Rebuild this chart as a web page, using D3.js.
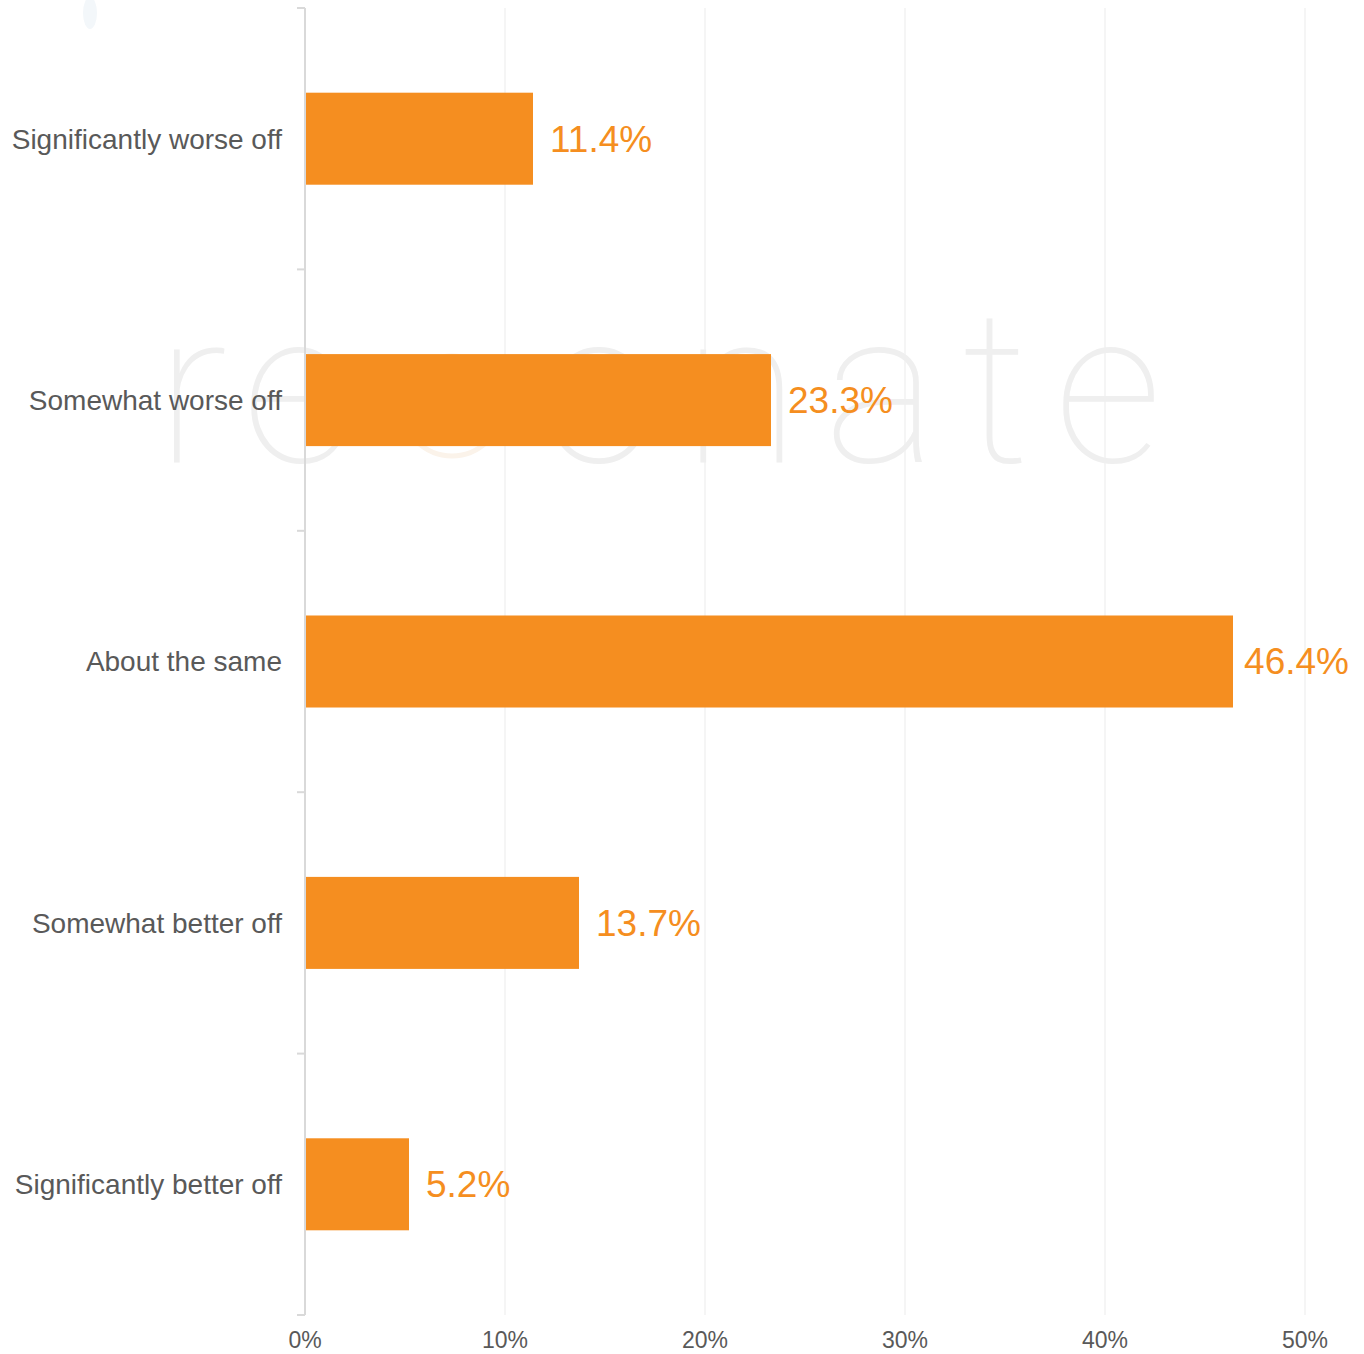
<!DOCTYPE html>
<html>
<head>
<meta charset="utf-8">
<script src="https://cdn.jsdelivr.net/npm/d3@7"></script>
<style>
  html, body { margin: 0; padding: 0; background: #ffffff; }
  svg { display: block; }
</style>
</head>
<body>
<svg id="chart" width="1364" height="1354"></svg>
<script>
const categories = ["Significantly worse off", "Somewhat worse off", "About the same", "Somewhat better off", "Significantly better off"];
const values = [11.4, 23.3, 46.4, 13.7, 5.2];
const valueLabels = ["11.4%", "23.3%", "46.4%", "13.7%", "5.2%"];
const xTicks = [0, 10, 20, 30, 40, 50];
const xTickLabels = ["0%", "10%", "20%", "30%", "40%", "50%"];

const svg = d3.select("#chart");
const margin = { left: 305, right: 59, top: 8, bottom: 39 };
const W = 1364, H = 1354;
const x = d3.scaleLinear().domain([0, 50]).range([margin.left, W - margin.right]);
const y = d3.scaleBand().domain(categories).range([margin.top, H - margin.bottom])
  .paddingInner(0.648).paddingOuter(0.324);

// faint decorations
svg.append("ellipse").attr("cx", 90).attr("cy", 13).attr("rx", 7).attr("ry", 16).attr("fill", "#f3f7fa");

// gridlines
svg.append("g").selectAll("line").data(xTicks.filter(d => d > 0)).join("line")
  .attr("x1", d => x(d)).attr("x2", d => x(d))
  .attr("y1", margin.top).attr("y2", H - margin.bottom)
  .attr("stroke", "#f0f0f0").attr("stroke-width", 1.3);

// watermark
const wm = svg.append("g").attr("fill", "#efefef").attr("font-family", "Roboto, 'Liberation Sans', sans-serif")
  .attr("font-weight", 100).attr("font-size", 214);
wm.append("text").attr("x", 156).attr("y", 462).attr("textLength", 194).attr("lengthAdjust", "spacing").text("re");
wm.append("circle").attr("cx", 452).attr("cy", 406).attr("r", 50).attr("fill", "none")
  .attr("stroke", "#fbf3ea").attr("stroke-width", 5);
wm.append("text").attr("x", 540).attr("y", 462).attr("textLength", 622).attr("lengthAdjust", "spacing").text("onate");

// bars
svg.append("g").selectAll("rect").data(values).join("rect")
  .attr("x", x(0) + 1)
  .attr("y", (d, i) => y(categories[i]))
  .attr("width", d => x(d) - x(0) - 1)
  .attr("height", y.bandwidth())
  .attr("fill", "#F58E20");

// y axis line and separator ticks
const axisG = svg.append("g").attr("stroke", "#d9d9d9").attr("stroke-width", 2);
axisG.append("line").attr("x1", x(0)).attr("x2", x(0)).attr("y1", margin.top).attr("y2", H - margin.bottom);
const step = y.step();
const seps = d3.range(categories.length + 1).map(i => margin.top + i * step);
axisG.selectAll("line.sep").data(seps).join("line").attr("class", "sep")
  .attr("x1", x(0) - 8).attr("x2", x(0)).attr("y1", d => d).attr("y2", d => d);

// category labels
svg.append("g").selectAll("text").data(categories).join("text")
  .attr("x", 282)
  .attr("y", d => y(d) + y.bandwidth() / 2)
  .attr("dy", "0.35em")
  .attr("text-anchor", "end")
  .attr("font-family", "'Liberation Sans', Arial, sans-serif")
  .attr("font-size", 28)
  .attr("fill", "#595959")
  .text(d => d);

// value labels
svg.append("g").selectAll("text").data(values).join("text")
  .attr("y", (d, i) => y(categories[i]) + y.bandwidth() / 2)
  .attr("dy", "0.35em")
  .attr("font-family", "'Liberation Sans', Arial, sans-serif")
  .attr("font-size", 37)
  .attr("fill", "#F58E20")
  .text((d, i) => valueLabels[i])
  .each(function(d) {
    const w = this.getComputedTextLength();
    const xx = Math.min(x(d) + 17, W - 15 - w);
    d3.select(this).attr("x", xx);
  });

// x tick labels
svg.append("g").selectAll("text").data(xTicks).join("text")
  .attr("x", d => x(d))
  .attr("y", 1348)
  .attr("text-anchor", "middle")
  .attr("font-family", "'Liberation Sans', Arial, sans-serif")
  .attr("font-size", 23)
  .attr("fill", "#595959")
  .text((d, i) => xTickLabels[i]);
</script>
</body>
</html>
